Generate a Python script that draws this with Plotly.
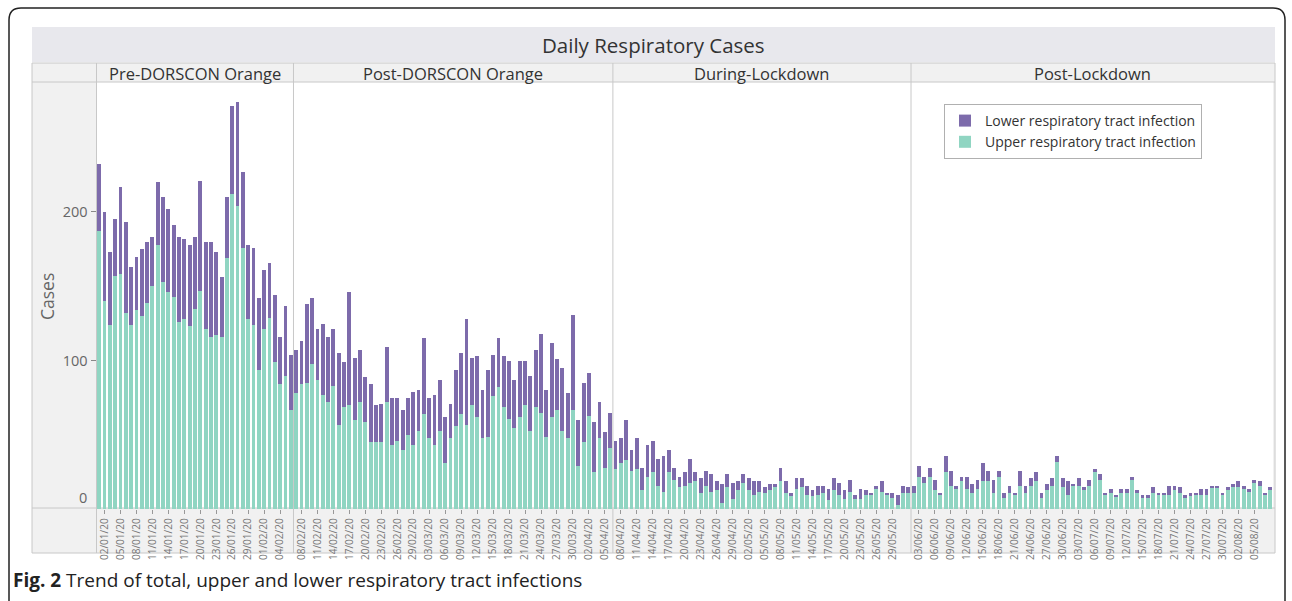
import pandas as pd
import plotly.graph_objects as go

W, H = 1292, 601

# ---------------- data ----------------
periods = ["Pre-DORSCON Orange", "Post-DORSCON Orange", "During-Lockdown", "Post-Lockdown"]
start_date = "2020-01-01"

upper_pre = [187, 140, 124, 157, 158, 132, 124, 134, 130, 139, 150, 178, 153, 146, 143, 126, 128, 123, 135,
             147, 121, 116, 117, 116, 169, 212, 204, 176, 128, 124, 94, 121, 129, 99, 84, 90, 67]
lower_pre = [45, 60, 49, 38, 59, 61, 39, 36, 45, 41, 33, 42, 57, 56, 48, 57, 54, 55, 48,
             74, 59, 64, 56, 40, 41, 59, 70, 51, 50, 52, 48, 40, 37, 45, 32, 47, 37]

upper_postd = [78, 84, 85, 98, 87, 77, 72, 83, 57, 69, 70, 60, 72, 59, 45, 45, 45, 72, 43, 46,
               40, 50, 43, 53, 64, 48, 43, 53, 31, 48, 56, 64, 57, 70, 62, 48, 49, 76, 82, 69,
               61, 55, 62, 70, 53, 69, 65, 49, 62, 67, 53, 48, 67, 29, 45, 63, 25, 48, 28, 41]
lower_postd = [29, 29, 53, 44, 34, 48, 44, 38, 48, 30, 76, 42, 35, 30, 39, 25, 26, 37, 32, 29,
               27, 25, 36, 27, 51, 27, 34, 34, 31, 23, 38, 41, 71, 32, 41, 32, 45, 28, 33, 34,
               39, 32, 38, 30, 37, 38, 53, 31, 50, 34, 42, 30, 64, 31, 40, 29, 34, 24, 24, 24]

upper_lock = [27, 31, 33, 26, 27, 13, 22, 25, 16, 12, 25, 20, 15, 16, 18, 19, 11, 16, 12, 13,
              4, 15, 7, 13, 18, 13, 10, 12, 11, 13, 15, 19, 11, 9, 14, 15, 10, 9, 10, 11,
              6, 13, 10, 7, 12, 7, 7, 10, 10, 14, 12, 10, 8, 3, 11, 11]
lower_lock = [19, 17, 27, 14, 21, 15, 21, 21, 18, 24, 15, 8, 7, 9, 16, 6, 10, 10, 12, 6,
              13, 9, 11, 6, 6, 8, 9, 7, 4, 4, 2, 9, 8, 2, 7, 6, 6, 4, 6, 5,
              8, 8, 8, 6, 8, 3, 7, 3, 1, 2, 7, 1, 3, 7, 5, 4]

upper_postl = [11, 22, 18, 22, 13, 10, 25, 16, 14, 19, 14, 11, 14, 19, 19, 11, 22, 8, 11, 10,
               16, 11, 16, 19, 8, 13, 16, 32, 15, 10, 16, 16, 13, 16, 25, 20, 10, 11, 9, 11,
               11, 20, 11, 8, 8, 11, 10, 10, 10, 13, 11, 8, 9, 10, 10, 10, 15, 15, 10, 13,
               15, 15, 14, 12, 18, 16, 10, 13]
lower_postl = [5, 7, 4, 6, 7, 1, 11, 10, 2, 3, 8, 6, 6, 12, 7, 9, 4, 3, 5, 1,
               10, 5, 5, 6, 3, 4, 5, 4, 6, 9, 1, 5, 2, 4, 2, 4, 1, 3, 1, 3,
               3, 2, 2, 2, 2, 4, 1, 1, 6, 3, 4, 2, 2, 1, 4, 4, 1, 1, 1, 2,
               2, 4, 2, 2, 2, 3, 1, 2]

upper_groups = [upper_pre, upper_postd, upper_lock, upper_postl]
lower_groups = [lower_pre, lower_postd, lower_lock, lower_postl]

upper = sum(upper_groups, [])
lower = sum(lower_groups, [])
n_total = len(upper)
dates = pd.date_range(start_date, periods=n_total, freq="D")
xs = list(range(n_total))

# tick labels: every 3rd day inside each period, starting at its 2nd day
tickvals, ticktext = [], []
bounds = []
pos = 0
for g in upper_groups:
    n = len(g)
    k = 1
    while k < n - 1:
        tickvals.append(pos + k)
        ticktext.append(dates[pos + k].strftime("%d/%m/%y"))
        k += 3
    bounds.append((pos - 0.5, pos + n - 0.5))
    pos += n

# ---------------- styling ----------------
FONT = "Open Sans"
PURPLE = "#7d6bab"
TEAL = "#90d5c2"
GRID = "#c8c8c8"
PANEL_BG = "#f1f1f1"
TITLE_BG = "#e8e8ed"


def px(x):
    return x / W


def py(y):
    return 1 - y / H


fig = go.Figure()
fig.add_trace(go.Bar(x=xs, y=upper, name="Upper respiratory tract infection",
                     marker=dict(color=TEAL, line=dict(width=0))))
fig.add_trace(go.Bar(x=xs, y=lower, name="Lower respiratory tract infection",
                     marker=dict(color=PURPLE, line=dict(width=0))))

L, R, T, B = 32, 1275, 27, 553
PL, PR, PT, PB = 96.5, 1273, 82, 508

shapes = []
shapes.append(dict(type="rect", xref="paper", yref="paper", x0=px(L), x1=px(R), y0=py(63), y1=py(B),
                   fillcolor=PANEL_BG, line=dict(width=0), layer="below"))
shapes.append(dict(type="rect", xref="paper", yref="paper", x0=px(L), x1=px(R), y0=py(62), y1=py(T),
                   fillcolor=TITLE_BG, line=dict(width=0), layer="below"))
shapes.append(dict(type="rect", xref="paper", yref="paper", x0=px(PL), x1=px(PR), y0=py(PB), y1=py(PT),
                   fillcolor="white", line=dict(width=0), layer="below"))
for yy in [63, 82, 508, 553]:
    shapes.append(dict(type="line", xref="paper", yref="paper", x0=px(L), x1=px(R), y0=py(yy), y1=py(yy),
                       line=dict(color=GRID, width=1), layer="below"))
for xx in [L, PL, R]:
    shapes.append(dict(type="line", xref="paper", yref="paper", x0=px(xx), x1=px(xx), y0=py(63), y1=py(B),
                       line=dict(color=GRID, width=1), layer="below"))
for (a, b) in bounds[:-1]:
    shapes.append(dict(type="line", xref="x", yref="paper", x0=b, x1=b, y0=py(B), y1=py(63),
                       line=dict(color=GRID, width=1), layer="below"))
r = 12
path = (f"M {px(9)},{py(601)} L {px(9)},{py(8 + r)} Q {px(9)},{py(8)} {px(9 + r)},{py(8)} "
        f"L {px(1285 - r)},{py(8)} Q {px(1285)},{py(8)} {px(1285)},{py(8 + r)} L {px(1285)},{py(601)}")
shapes.append(dict(type="path", xref="paper", yref="paper", path=path,
                   line=dict(color="#222", width=1.5), layer="above"))

annotations = []
annotations.append(dict(text="Daily Respiratory Cases", xref="paper", yref="paper", x=px((L + R) / 2), y=py(45),
                        showarrow=False, font=dict(family=FONT, size=20.5, color="#333"),
                        xanchor="center", yanchor="middle"))
for name, (a, b) in zip(periods, bounds):
    annotations.append(dict(text=name, xref="x", yref="paper", x=(a + b) / 2, y=py(73), showarrow=False,
                            font=dict(family=FONT, size=16.5, color="#333"), xanchor="center", yanchor="middle"))
annotations.append(dict(text="Cases", xref="paper", yref="paper", x=px(47), y=py(296), textangle=-90,
                        showarrow=False, font=dict(family=FONT, size=17.5, color="#666"),
                        xanchor="center", yanchor="middle"))
annotations.append(dict(text="0", xref="paper", yref="paper", x=px(89), y=py(497), showarrow=False,
                        font=dict(family=FONT, size=14.5, color="#666"), xanchor="right", yanchor="middle"))
annotations.append(dict(text="<b>Fig. 2</b> Trend of total, upper and lower respiratory tract infections",
                        xref="paper", yref="paper", x=px(11), y=py(580), showarrow=False,
                        font=dict(family=FONT, size=19, color="#222"), xanchor="left", yanchor="middle"))

fig.update_layout(
    width=W, height=H,
    margin=dict(l=0, r=0, t=0, b=0),
    paper_bgcolor="white", plot_bgcolor="rgba(0,0,0,0)",
    barmode="stack", bargap=0.28,
    font=dict(family=FONT, color="#555"),
    shapes=shapes, annotations=annotations,
    showlegend=True,
    legend=dict(x=px(944), y=py(104), xanchor="left", yanchor="top", traceorder="reversed",
                bgcolor="white", bordercolor="#b0b0b0", borderwidth=1,
                font=dict(family=FONT, size=14, color="#333"), tracegroupgap=0, itemwidth=30),
    xaxis=dict(domain=[px(PL), px(PR)], range=[-0.5, n_total - 0.5], showgrid=False, zeroline=False,
               showline=False, tickmode="array", tickvals=tickvals, ticktext=ticktext, tickangle=-90,
               ticks="outside", ticklen=4, tickcolor="#999", tickfont=dict(family=FONT, size=10, color="#777"),
               fixedrange=True),
    yaxis=dict(domain=[py(509.4), py(PT)], range=[0, 287.4], showgrid=False, zeroline=False, showline=False,
               tickmode="array", tickvals=[100, 200], ticks="outside", ticklen=5, tickcolor="#888",
               tickfont=dict(family=FONT, size=14.5, color="#666"), fixedrange=True),
)

fig.write_html("out.html", config={"displayModeBar": False},
               post_script="document.body.style.margin='0px';document.body.style.overflow='hidden';")
